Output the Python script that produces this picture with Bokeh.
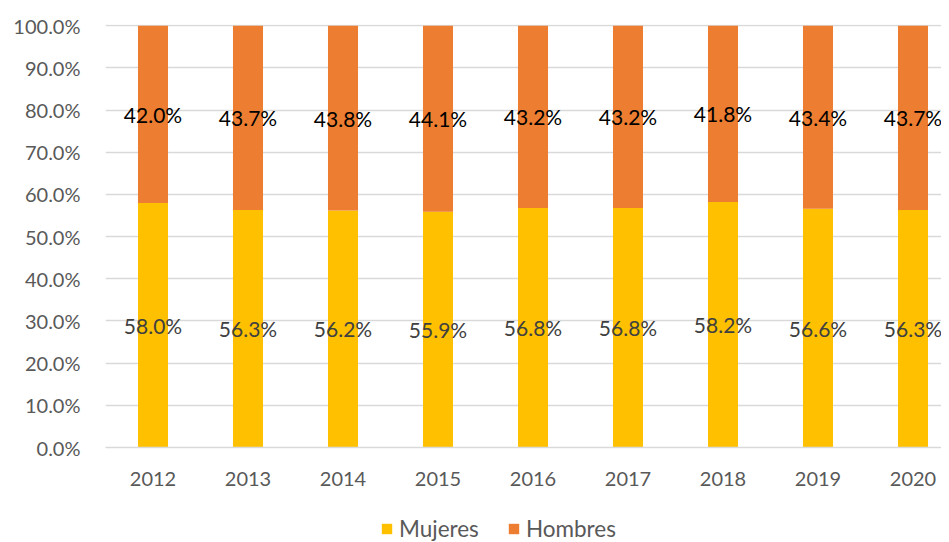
from bokeh.plotting import figure
from bokeh.layouts import column
from bokeh.models import (ColumnDataSource, FixedTicker, PrintfTickFormatter,
                          Legend, LegendItem, Range1d)
from bokeh.core.properties import value
from bokeh.embed import file_html
from bokeh.resources import INLINE

years = ["2012", "2013", "2014", "2015", "2016", "2017", "2018", "2019", "2020"]
mujeres = [58.0, 56.3, 56.2, 55.9, 56.8, 56.8, 58.2, 56.6, 56.3]
hombres = [42.0, 43.7, 43.8, 44.1, 43.2, 43.2, 41.8, 43.4, 43.7]
y_ticks = [0, 10, 20, 30, 40, 50, 60, 70, 80, 90, 100]
series_names = ["Mujeres", "Hombres"]

FONT = "Lato"
C_M = "#FFC000"
C_H = "#ED7D31"

xs = list(range(len(years)))
src = ColumnDataSource(dict(
    x=xs,
    mujeres=mujeres,
    hombres=hombres,
    m_lab=[f"{v:.1f}%" for v in mujeres],
    h_lab=[f"{v:.1f}%" for v in hombres],
    m_mid=[v / 2 for v in mujeres],
    h_mid=[m + h / 2 for m, h in zip(mujeres, hombres)],
))

p = figure(width=941, height=500, output_backend="svg", toolbar_location=None,
           x_range=Range1d(-0.5, 8.3), y_range=Range1d(0, 100.3),
           min_border_left=105, min_border_right=0, min_border_top=24,
           min_border_bottom=53)
p.outline_line_color = None
p.background_fill_color = "white"

p.vbar_stack(["mujeres", "hombres"], x="x", width=0.316, source=src,
             color=[C_M, C_H], line_color=None)

p.text(x="x", y="m_mid", text="m_lab", source=src, text_align="center",
       text_baseline="middle", text_font=value(FONT), text_font_size="21px",
       text_color="#404040")
p.text(x="x", y="h_mid", text="h_lab", source=src, text_align="center",
       text_baseline="middle", text_font=value(FONT), text_font_size="21px",
       text_color="#000000")

# axes
p.xaxis.ticker = FixedTicker(ticks=xs)
p.xaxis.major_label_overrides = {i: y for i, y in enumerate(years)}
p.xaxis.major_tick_line_color = None
p.xaxis.minor_tick_line_color = None
p.xaxis.axis_line_color = "#D9D9D9"
p.xaxis.axis_line_width = 1.5
p.xaxis.major_label_text_font = FONT
p.xaxis.major_label_text_font_size = "20px"
p.xaxis.major_label_text_color = "#595959"
p.xaxis.major_label_standoff = 18

p.yaxis.ticker = FixedTicker(ticks=y_ticks)
p.yaxis.formatter = PrintfTickFormatter(format="%.1f%%")
p.yaxis.major_tick_line_color = None
p.yaxis.minor_tick_line_color = None
p.yaxis.axis_line_color = None
p.yaxis.major_label_text_font = FONT
p.yaxis.major_label_text_font_size = "20px"
p.yaxis.major_label_text_color = "#595959"
p.yaxis.major_label_standoff = 19

p.xgrid.grid_line_color = None
p.ygrid.ticker = FixedTicker(ticks=y_ticks)
p.ygrid.grid_line_color = "#D9D9D9"
p.ygrid.grid_line_width = 1.5

# legend strip (same series, drawn out of view so only the legend shows)
q = figure(width=941, height=42, output_backend="svg", toolbar_location=None,
           x_range=Range1d(-0.5, 8.3), y_range=Range1d(1000, 1001),
           x_axis_type=None, y_axis_type=None, min_border=0)
q.outline_line_color = None
q.grid.visible = False
rq = q.vbar_stack(["mujeres", "hombres"], x="x", width=0.316, source=src,
                  color=[C_M, C_H], line_color=None)
legend = Legend(items=[LegendItem(label=series_names[0], renderers=[rq[0]]),
                       LegendItem(label=series_names[1], renderers=[rq[1]])],
                orientation="horizontal", location=(275, 0),
                glyph_width=13, glyph_height=13, label_standoff=6, spacing=28,
                padding=0, margin=0, border_line_color=None,
                background_fill_alpha=0,
                label_text_font=FONT, label_text_font_size="22.5px",
                label_text_color="#595959")
q.add_layout(legend, "center")

layout = column(p, q, spacing=0)
open("out.html", "w").write(file_html(layout, INLINE))
